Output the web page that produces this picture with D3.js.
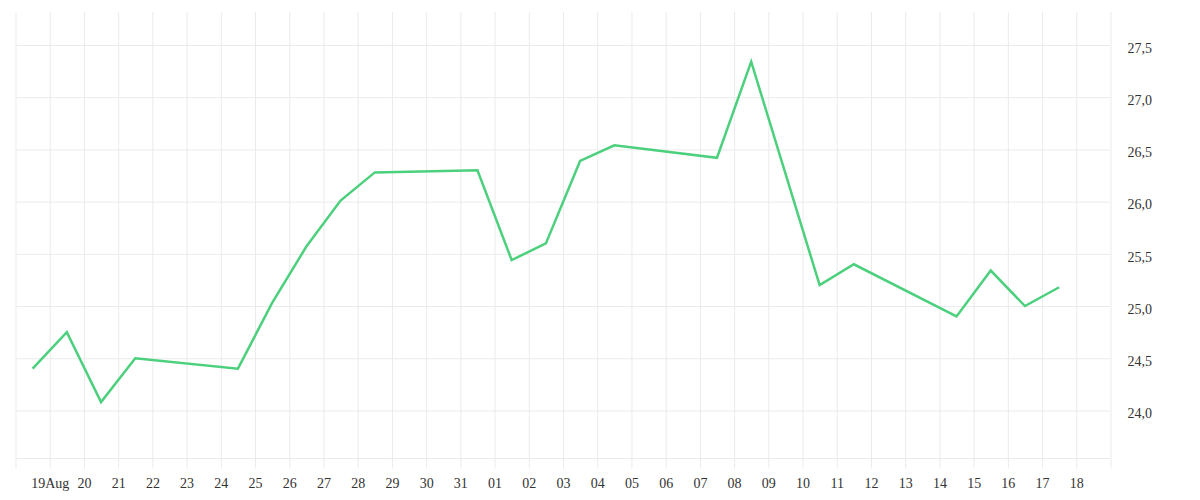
<!DOCTYPE html>
<html>
<head>
<meta charset="utf-8">
<script src="https://cdn.jsdelivr.net/npm/d3@7"></script>
<style>
  body { margin: 0; background: #fff; }
  .grid line { stroke: #ebebeb; stroke-width: 1; }
  .axis text { font-family: "Liberation Serif", serif; font-size: 14px; fill: #333; }
</style>
</head>
<body>
<div id="chart"></div>
<script>
// daily closes (trading days only)
var dates = ["2020-08-18", "2020-08-19", "2020-08-20", "2020-08-21", "2020-08-24",
             "2020-08-25", "2020-08-26", "2020-08-27", "2020-08-28", "2020-08-31",
             "2020-09-01", "2020-09-02", "2020-09-03", "2020-09-04", "2020-09-07",
             "2020-09-08", "2020-09-10", "2020-09-11", "2020-09-14", "2020-09-15",
             "2020-09-16", "2020-09-17"];
var values = [24.40, 24.75, 24.08, 24.50, 24.40,
              25.03, 25.57, 26.01, 26.28, 26.30,
              25.44, 25.60, 26.39, 26.54, 26.42,
              27.34, 25.20, 25.40, 24.90, 25.34,
              25.00, 25.18];
var yTicks = [24.0, 24.5, 25.0, 25.5, 26.0, 26.5, 27.0, 27.5];

function drawChart() {

    var width = 1200,
        height = 500;

    // plot box edges
    var pLeft = 15.5, pRight = 1110.5, pTop = 12, pBottom = 458.5;

    var parse = d3.timeParse("%Y-%m-%d");
    var data = dates.map(function (d, i) {
        // points sit in the middle of the day
        return { date: d3.timeHour.offset(parse(d), 12), value: values[i] };
    });

    var start = parse("2020-08-18"),
        end = parse("2020-09-19");

    var x = d3.scaleTime()
        .domain([start, end])
        .range([pLeft, pRight]);

    var y = d3.scaleLinear()
        .domain([23.54, 27.816])
        .range([pBottom, pTop]);

    var svg = d3.select("#chart")
        .append("svg")
        .attr("width", width)
        .attr("height", height);

    // vertical grid + day labels
    var days = d3.timeDay.range(start, d3.timeDay.offset(end, 1));
    var fmtDay = d3.timeFormat("%d"),
        fmtFirst = d3.timeFormat("%d%b");

    var xAxis = svg.append("g")
        .attr("class", "axis grid")
        .attr("transform", "translate(0," + (pBottom + 10) + ")")
        .call(d3.axisBottom(x)
            .tickValues(days)
            .tickSize(-(pBottom + 10 - pTop))
            .tickSizeOuter(0)
            .tickPadding(10)
            .tickFormat(function (d, i) {
                if (i == 0 || i == days.length - 1) return "";
                if (i == 1) return fmtFirst(d);
                return fmtDay(d);
            }));
    xAxis.select(".domain").remove();
    xAxis.selectAll("text").attr("y", 10).attr("dy", "0.71em");

    // horizontal grid + value labels on the right
    var fmtVal = d3.format(".1f");
    var yAxis = svg.append("g")
        .attr("class", "axis grid")
        .attr("transform", "translate(" + pRight + ",0)")
        .call(d3.axisRight(y)
            .tickValues(yTicks)
            .tickSize(-(pRight - pLeft))
            .tickPadding(17)
            .tickFormat(function (d) { return fmtVal(d).replace(".", ","); }));
    yAxis.select(".domain").remove();
    yAxis.selectAll("text").attr("x", 17).attr("dy", "0.52em");

    // bottom edge
    svg.append("line")
        .attr("x1", pLeft).attr("x2", pRight)
        .attr("y1", pBottom).attr("y2", pBottom)
        .style("stroke", "#ebebeb");

    var line = d3.line()
        .x(function (d) { return x(d.date); })
        .y(function (d) { return y(d.value); });

    svg.append("path")
        .datum(data)
        .attr("d", line)
        .style("fill", "none")
        .style("stroke", "#4cd07d")
        .style("stroke-width", 2.5)
        .style("stroke-linejoin", "miter");
}

drawChart();
</script>
</body>
</html>
